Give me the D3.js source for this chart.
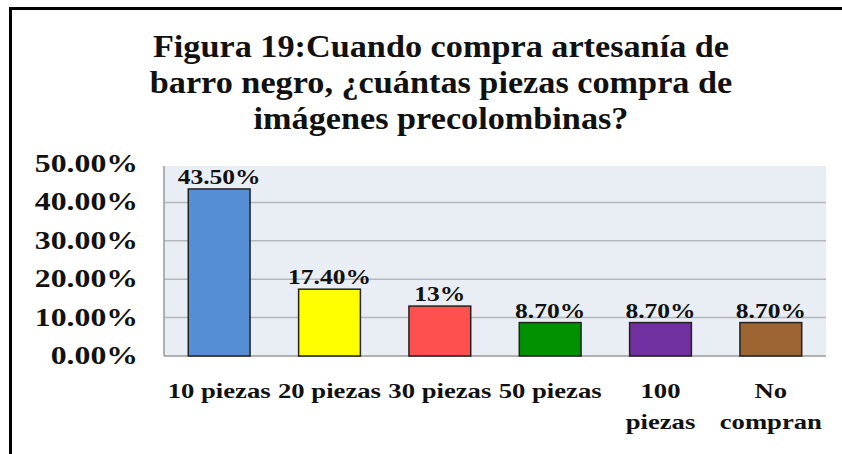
<!DOCTYPE html>
<html>
<head>
<meta charset="utf-8">
<script src="https://cdn.jsdelivr.net/npm/d3@7"></script>
<style>
  body { margin: 0; background: #fff; }
  text { font-family: "Liberation Serif", "Times New Roman", serif; font-weight: bold; fill: #111; }
</style>
</head>
<body>
<div class="chart"></div>
<script>
// data
var categories = ["10 piezas", "20 piezas", "30 piezas", "50 piezas", "100 piezas", "No compran"];
var catLines = [["10 piezas"], ["20 piezas"], ["30 piezas"], ["50 piezas"], ["100", "piezas"], ["No", "compran"]];
var values = [43.5, 17.4, 13, 8.7, 8.7, 8.7];
var valueLabels = ["43.50%", "17.40%", "13%", "8.70%", "8.70%", "8.70%"];
var barColors = ["#558ed5", "#ffff00", "#ff5050", "#009100", "#7030a0", "#9c6531"];
var yTicks = [0, 10, 20, 30, 40, 50];
var titleLines = ["Figura 19:Cuando compra artesanía de",
                  "barro negro, ¿cuántas piezas compra de",
                  "imágenes precolombinas?"];

var width = 842, height = 454;
var plot = {left: 164, right: 826, top: 164, bottom: 356};

var svg = d3.select(".chart")
  .append("svg")
  .attr("width", width)
  .attr("height", height);

// frame lines (top and left)
svg.append("rect").attr("x", 9).attr("y", 7).attr("width", 833).attr("height", 3).attr("fill", "#000");
svg.append("rect").attr("x", 9).attr("y", 10).attr("width", 3).attr("height", 444).attr("fill", "#000");

// title
svg.append("g").selectAll("g")
  .data(titleLines)
  .enter().append("g")
  .attr("transform", function(d, i) { return "translate(441," + (57 + i * 36) + ") scale(1.07,1)"; })
  .append("text")
  .attr("text-anchor", "middle")
  .style("font-size", "32px")
  .text(function(d) { return d; });

var x = d3.scaleBand()
  .domain(categories)
  .range([plot.left, plot.right])
  .paddingInner(0.44)
  .paddingOuter(0.22);

var y = d3.scaleLinear()
  .domain([0, 50])
  .range([plot.bottom, plot.top]);

// plot background
svg.append("rect")
  .attr("x", plot.left).attr("y", y(50) + 2)
  .attr("width", plot.right - plot.left)
  .attr("height", y(0) - y(50) - 2)
  .attr("fill", "#e9eef4");

// gridlines
svg.append("g").selectAll("line")
  .data(yTicks.filter(function(t) { return t > 0 && t < 50; }))
  .enter().append("line")
  .attr("x1", plot.left).attr("x2", plot.right)
  .attr("y1", function(d) { return y(d); })
  .attr("y2", function(d) { return y(d); })
  .attr("stroke", "#b4b8bc")
  .attr("stroke-width", 1.5);

// axes lines
svg.append("line")
  .attr("x1", plot.left).attr("x2", plot.left)
  .attr("y1", y(50) + 2).attr("y2", y(0))
  .attr("stroke", "#9a9a9a").attr("stroke-width", 1.5);
svg.append("line")
  .attr("x1", plot.left).attr("x2", plot.right)
  .attr("y1", y(0)).attr("y2", y(0))
  .attr("stroke", "#9a9a9a").attr("stroke-width", 1.5);

// y tick labels
svg.append("g").selectAll("g")
  .data(yTicks)
  .enter().append("g")
  .attr("transform", function(d) { return "translate(138," + (y(d) + 8) + ") scale(1.27,1)"; })
  .append("text")
  .attr("text-anchor", "end")
  .style("font-size", "25px")
  .text(function(d) { return d3.format(".2f")(d) + "%"; });

// bars
svg.append("g").selectAll("rect")
  .data(values)
  .enter().append("rect")
  .attr("x", function(d, i) { return x(categories[i]); })
  .attr("y", function(d) { return y(d); })
  .attr("width", x.bandwidth())
  .attr("height", function(d) { return y(0) - y(d); })
  .attr("fill", function(d, i) { return barColors[i]; })
  .attr("stroke", "#222")
  .attr("stroke-width", 1.5);

// value labels
svg.append("g").selectAll("g")
  .data(values)
  .enter().append("g")
  .attr("transform", function(d, i) {
    return "translate(" + (x(categories[i]) + x.bandwidth() / 2) + "," + (y(d) - 5) + ") scale(1.16,1)";
  })
  .append("text")
  .attr("text-anchor", "middle")
  .style("font-size", "22px")
  .text(function(d, i) { return valueLabels[i]; });

// category labels
var cat = svg.append("g").selectAll("g")
  .data(catLines)
  .enter().append("g")
  .attr("transform", function(d, i) {
    return "translate(" + (x(categories[i]) + x.bandwidth() / 2) + ",398) scale(1.27,1)";
  });
cat.selectAll("text")
  .data(function(d) { return d; })
  .enter().append("text")
  .attr("text-anchor", "middle")
  .attr("y", function(d, j) { return j * 31; })
  .style("font-size", "21px")
  .text(function(d) { return d; });
</script>
</body>
</html>
